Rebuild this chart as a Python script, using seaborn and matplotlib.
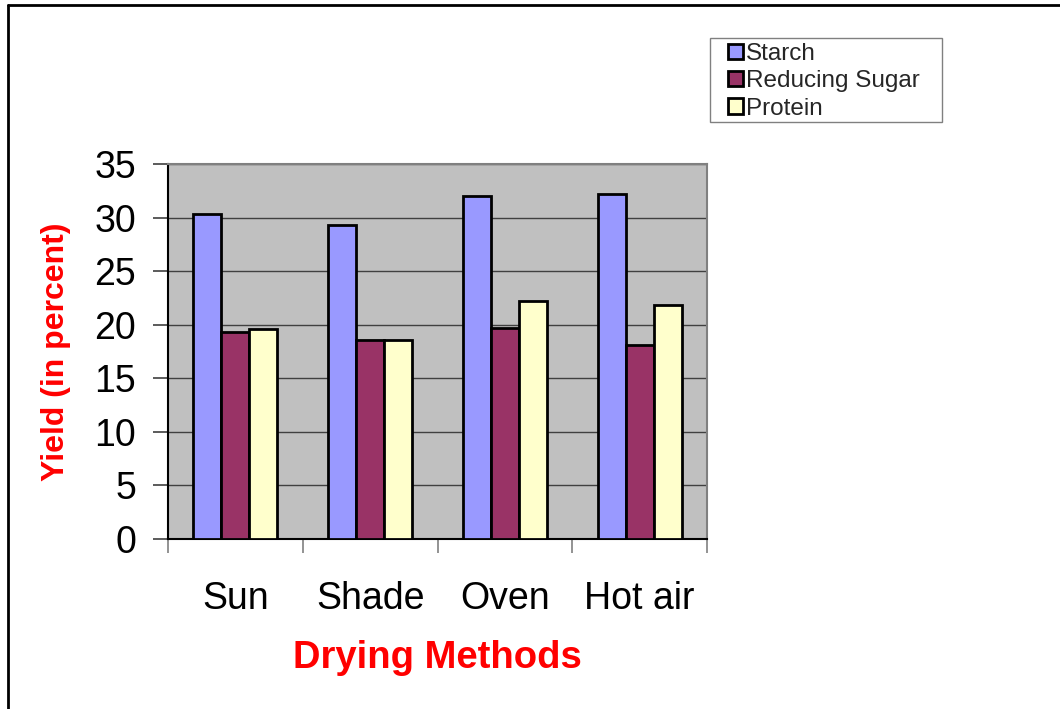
import numpy as np
import pandas as pd
import matplotlib
matplotlib.use("Agg")
import matplotlib.pyplot as plt
from matplotlib.lines import Line2D
from matplotlib.patches import Rectangle
import seaborn as sns

# data
methods = ["Sun", "Shade", "Oven", "Hot air"]
starch = [30.3, 29.3, 32.0, 32.2]
reducing_sugar = [19.3, 18.6, 19.7, 18.1]
protein = [19.6, 18.6, 22.2, 21.8]
series_names = ["Starch", "Reducing Sugar", "Protein"]
colors = ["#9999FF", "#993366", "#FFFFCC"]

rows = []
for name, vals in zip(series_names, [starch, reducing_sugar, protein]):
    for m, v in zip(methods, vals):
        rows.append({"method": m, "component": name, "yield": v})
df = pd.DataFrame(rows)

sns.set_style("white")
plt.rcParams["font.family"] = ["Liberation Sans", "DejaVu Sans"]

fig = plt.figure(figsize=(10.6, 7.09), dpi=100)
ax = fig.add_axes([168 / 1060, 1 - 539 / 709, 539 / 1060, 375 / 709])
ax.set_facecolor("#C0C0C0")

sns.barplot(data=df, x="method", y="yield", hue="component", order=methods,
            hue_order=series_names, palette=colors, width=0.625,
            edgecolor="black", linewidth=2, saturation=1, ax=ax, zorder=3)

ax.set_ylim(0, 35)
ax.set_xlim(-0.5, 3.5)
ax.set_yticks(np.arange(0, 36, 5))
ax.yaxis.grid(True, color="#404040", linewidth=1, zorder=1)
ax.set_axisbelow(True)

# category labels with no tick, divider ticks between groups
ax.tick_params(axis="x", which="major", bottom=True, length=0, pad=30,
               labelsize=27, labelcolor="black")
ax.set_xticks(np.arange(-0.5, 4, 1), minor=True)
ax.tick_params(axis="x", which="minor", bottom=True, length=10, width=1.2, color="#808080")
ax.tick_params(axis="y", left=True, length=11, width=1.2, color="#404040", pad=12,
               labelsize=27, labelcolor="black")

for side in ["top", "right"]:
    ax.spines[side].set_visible(True)
    ax.spines[side].set_color("#808080")
    ax.spines[side].set_linewidth(1.5)
ax.spines["left"].set_color("black")
ax.spines["bottom"].set_color("black")
ax.spines["left"].set_linewidth(1.5)
ax.spines["bottom"].set_linewidth(1.5)

ax.set_xlabel("Drying Methods", color="red", fontweight="bold", fontsize=27.5, labelpad=17)
ax.set_ylabel("Yield (in percent)", color="red", fontweight="bold", fontsize=23, labelpad=17)

handles, labels = ax.get_legend_handles_labels()
ax.legend_.remove()
leg = fig.legend(handles, labels, loc="upper left",
                 bbox_to_anchor=(728 / 1060, 1 - 43 / 709),
                 fontsize=17.5, frameon=False, handlelength=0.6,
                 handleheight=0.6, handletextpad=0.15, labelspacing=0.22,
                 borderpad=0, borderaxespad=0)
for h in leg.legend_handles:
    h.set_linewidth(2)
    h.set_edgecolor("black")
# legend box
fig.add_artist(Rectangle((710 / 1060, 1 - 122 / 709), 232 / 1060, 84 / 709,
                         transform=fig.transFigure, fill=False,
                         edgecolor="#808080", linewidth=1))

# outer frame of the chart object
fig.add_artist(Line2D([8 / 1060, 8 / 1060], [0, 1 - 5 / 709], color="black", lw=2,
                      transform=fig.transFigure))
fig.add_artist(Line2D([8 / 1060, 1], [1 - 5 / 709, 1 - 5 / 709], color="black", lw=2,
                      transform=fig.transFigure))

fig.savefig("out.png", dpi=100)
